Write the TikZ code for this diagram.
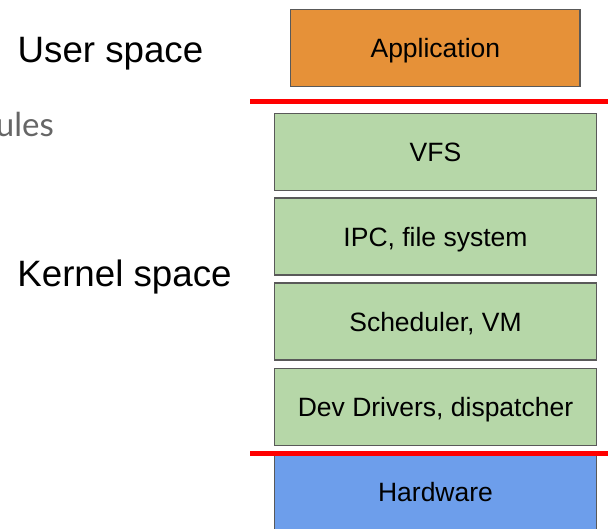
\documentclass[tikz,border=0pt]{standalone}
\usepackage{fontspec}
\setmainfont{Liberation Sans}
\newfontfamily\latofont{Lato}
\definecolor{appfill}{HTML}{E69138}
\definecolor{kernfill}{HTML}{B6D7A8}
\definecolor{hwfill}{HTML}{6D9EEB}
\definecolor{boxline}{HTML}{595959}
\definecolor{splitred}{HTML}{FF0000}
\definecolor{modgray}{HTML}{666666}
\begin{document}
\begin{tikzpicture}[x=1pt,y=-1pt,
  layer/.style={draw=boxline, line width=1.4pt, rectangle,
    minimum width=322.4pt, minimum height=77pt, inner sep=0pt,
    text height=19pt, text depth=0pt,
    font=\fontsize{26.5}{30}\selectfont},
  spacelabel/.style={inner sep=0pt, anchor=base,
    font=\fontsize{36.7}{40}\selectfont},
  boundary/.style={draw=splitred, line width=5pt}]
  \useasboundingbox (0,0) rectangle (608,528);

  % user-space layer
  \node[layer, fill=appfill, minimum width=289.3pt] (app) at (435.4,48) {Application};

  % kernel layers
  \node[layer, fill=kernfill] (vfs)   at (435.5,151.7) {VFS};
  \node[layer, fill=kernfill] (ipc)   at (435.5,236.5) {IPC, file system};
  \node[layer, fill=kernfill] (sched) at (435.5,321.5) {Scheduler, VM};
  \node[layer, fill=kernfill] (dev)   at (435.5,406.7) {Dev Drivers, dispatcher};

  % hardware layer
  \node[layer, fill=hwfill] (hw) at (435.5,491.5) {Hardware};

  % space boundaries
  \coordinate (ub1) at (250,101);
  \coordinate (ub2) at (612,101);
  \coordinate (kb1) at (250,453);
  \coordinate (kb2) at (612,453);
  \draw[boundary] (ub1) -- (ub2);
  \draw[boundary] (kb1) -- (kb2);

  % side labels
  \node[spacelabel] (user)   at (110.5,62)  {User space};
  \node[spacelabel] (kernel) at (124.5,286) {Kernel space};
  \node[inner sep=0pt, anchor=base east, text=modgray,
        font=\latofont\fontsize{33}{36}\selectfont] (mods) at (54,136) {ules};
\end{tikzpicture}
\end{document}
